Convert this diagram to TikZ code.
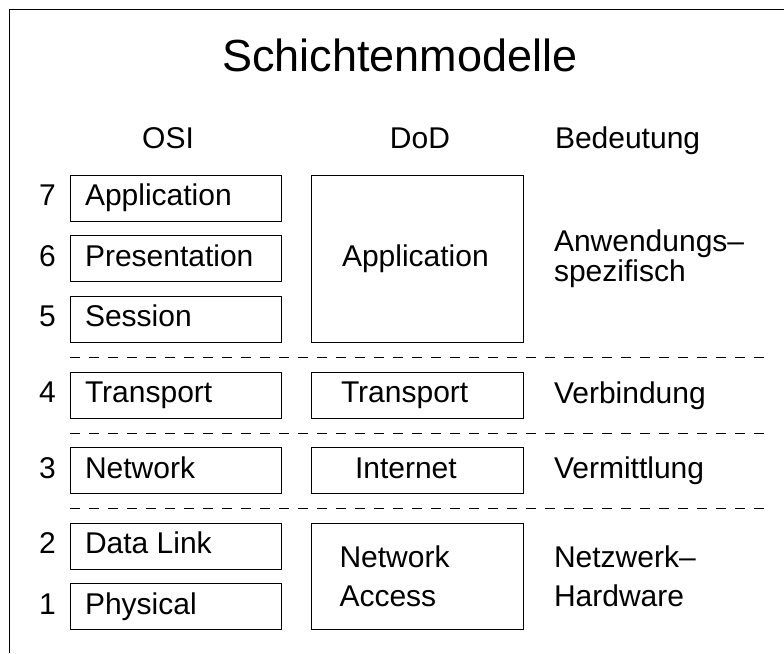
\documentclass[tikz,border=0pt]{standalone}
\usepackage{fontspec}
\setmainfont{Liberation Sans}
\begin{document}
\begin{tikzpicture}[x=1pt,y=-1pt,
  every node/.style={inner sep=0pt, outer sep=0pt},
  txt/.style={font=\fontsize{30}{30}\selectfont, anchor=base west},
  head/.style={font=\fontsize{30}{30}\selectfont, anchor=base},
  titletxt/.style={font=\fontsize{45}{45}\selectfont, anchor=base},
  osibox/.style={draw, line width=1pt, minimum width=211pt, minimum height=46pt},
  dodbox/.style={draw, line width=1pt, minimum width=212pt, minimum height=46pt},
  sepline/.style={line width=0.9pt, dash pattern=on 10pt off 9pt},
  frame/.style={line width=1.4pt}]
\useasboundingbox (0,0) rectangle (784,653);

% outer frame (top and left edge)
\draw[frame] (784,9.5) -- (9.5,9.5) -- (9.5,653);

% title and column headings
\node[titletxt] (title) at (400,71) {Schichtenmodelle};
\node[head] (hosi) at (168,148) {OSI};
\node[head] (hdod) at (420,148) {DoD};
\node[txt] (hbed) at (555,148) {Bedeutung};

% OSI layers
\node[osibox] (osi7) at (175.5,198.2) {};
\node[osibox] (osi6) at (175.5,258.8) {};
\node[osibox] (osi5) at (175.5,319.4) {};
\node[osibox] (osi4) at (175.5,395.2) {};
\node[osibox] (osi3) at (175.5,470.8) {};
\node[osibox] (osi2) at (175.5,546.2) {};
\node[osibox] (osi1) at (175.5,606.7) {};

\foreach \n/\t in {7/Application,6/Presentation,5/Session,4/Transport,3/Network,2/Data Link,1/Physical}{
  \node[txt] (osit\n) at ([xshift=15pt,yshift=-7.5pt]osi\n.west) {\t};
  \node[txt] (num\n) at ([xshift=-31pt,yshift=-7.5pt]osi\n.west) {\n};
}

% DoD layers
\node[dodbox, minimum height=167pt] (dodapp) at (417,258.6) {};
\node[dodbox] (dodtr) at (417,395.2) {};
\node[dodbox] (dodint) at (417,470.8) {};
\node[dodbox, minimum height=106pt] (dodna) at (417,576.3) {};

\node[txt] (dodappt) at (342,266.5) {Application};
\node[txt] (dodtrt) at (341,402.7) {Transport};
\node[txt] (dodintt) at (355,478.3) {Internet};
\node[txt] (dodnat1) at (339.5,567.3) {Network};
\node[txt] (dodnat2) at (339.5,606.7) {Access};

% meaning column
\node[txt] (bed1a) at (554,251.7) {Anwendungs–};
\node[txt] (bed1b) at (554,281.7) {spezifisch};
\node[txt] (bed2) at (554,403.3) {Verbindung};
\node[txt] (bed3) at (554,478.3) {Vermittlung};
\node[txt] (bed4a) at (554,567.3) {Netzwerk–};
\node[txt] (bed4b) at (554,606.7) {Hardware};

% separators between layer groups
\draw[sepline] (70,357) -- (765,357);
\draw[sepline] (70,433) -- (765,433);
\draw[sepline] (70,508.3) -- (765,508.3);
\end{tikzpicture}
\end{document}
